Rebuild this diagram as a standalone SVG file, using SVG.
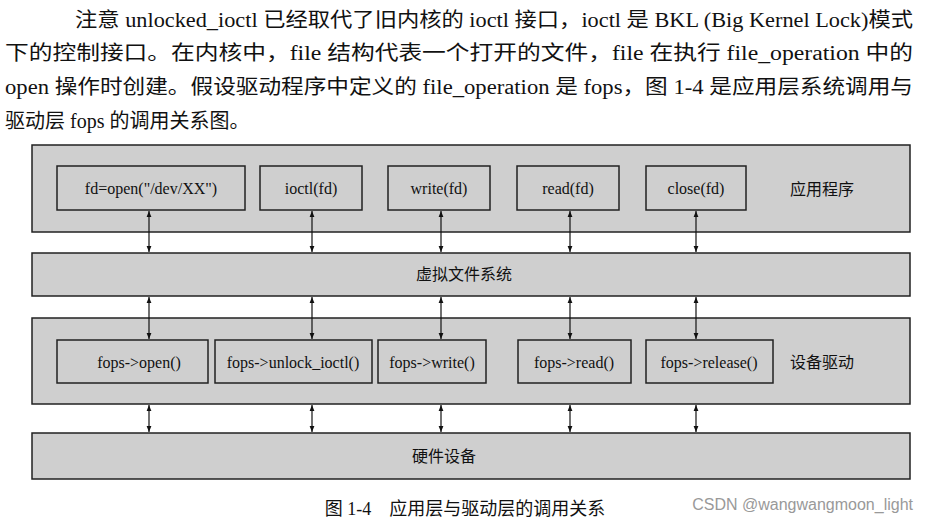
<svg xmlns="http://www.w3.org/2000/svg" width="929" height="523" viewBox="0 0 929 523">
<style>
.p{font-family:"Liberation Serif","Noto Sans CJK SC",serif;font-size:20px;fill:#111}
.t{font-family:"Liberation Serif","Noto Sans CJK SC",serif;font-size:16px;fill:#111;text-anchor:middle}
.bg{fill:#cfcfcf;stroke:#222;stroke-width:1.5}
.bx{fill:#cfcfcf;stroke:#222;stroke-width:1.5}
.c line{stroke:#111;stroke-width:1.2;marker-start:url(#a);marker-end:url(#a)}
</style>
<defs><marker id="a" viewBox="0 0 10 10" refX="10" refY="5" markerWidth="6" markerHeight="8" orient="auto-start-reverse" markerUnits="userSpaceOnUse"><path d="M0,1 L10,5 L0,9 Z" fill="#111"/></marker></defs>
<rect width="929" height="523" fill="#fff"/>
<text class="p" x="75" y="27" textLength="838" lengthAdjust="spacingAndGlyphs">注意 unlocked_ioctl 已经取代了旧内核的 ioctl 接口，ioctl 是 BKL (Big Kernel Lock)模式</text>
<text class="p" x="5" y="60" textLength="908" lengthAdjust="spacingAndGlyphs">下的控制接口。在内核中，file 结构代表一个打开的文件，file 在执行 file_operation 中的</text>
<text class="p" x="5" y="94" textLength="908" lengthAdjust="spacingAndGlyphs">open 操作时创建。假设驱动程序中定义的 file_operation 是 fops，图 1-4 是应用层系统调用与</text>
<text class="p" x="5" y="128">驱动层 fops 的调用关系图。</text>
<g id="app"><rect class="bg" x="32" y="145" width="878" height="87"/><text class="t" x="822" y="195">应用程序</text></g>
<g id="n1"><rect class="bx" x="57" y="166" width="188" height="44"/><text class="t" x="151" y="194">fd=open("/dev/XX")</text></g>
<g id="n2"><rect class="bx" x="260" y="166" width="102" height="44"/><text class="t" x="311" y="194">ioctl(fd)</text></g>
<g id="n3"><rect class="bx" x="388" y="166" width="102" height="44"/><text class="t" x="439" y="194">write(fd)</text></g>
<g id="n4"><rect class="bx" x="517" y="166" width="102" height="44"/><text class="t" x="568" y="194">read(fd)</text></g>
<g id="n5"><rect class="bx" x="646" y="166" width="100" height="44"/><text class="t" x="696" y="194">close(fd)</text></g>
<g id="vfs"><rect class="bg" x="32" y="253" width="878" height="43"/><text class="t" x="464" y="280">虚拟文件系统</text></g>
<g id="drv"><rect class="bg" x="32" y="318" width="878" height="86"/><text class="t" x="822" y="368">设备驱动</text></g>
<g id="d1"><rect class="bx" x="57" y="340" width="151" height="43"/><text class="t" x="139" y="368">fops-&gt;open()</text></g>
<g id="d2"><rect class="bx" x="215" y="340" width="157" height="43"/><text class="t" x="293" y="368">fops-&gt;unlock_ioctl()</text></g>
<g id="d3"><rect class="bx" x="378" y="340" width="108" height="43"/><text class="t" x="432" y="368">fops-&gt;write()</text></g>
<g id="d4"><rect class="bx" x="518" y="340" width="113" height="43"/><text class="t" x="574" y="368">fops-&gt;read()</text></g>
<g id="d5"><rect class="bx" x="646" y="340" width="127" height="43"/><text class="t" x="709" y="368">fops-&gt;release()</text></g>
<g id="hw"><rect class="bg" x="32" y="433" width="878" height="46"/><text class="t" x="444" y="462">硬件设备</text></g>
<g class="c" id="connectors">
<line x1="149" y1="211" x2="149" y2="252"/><line x1="312" y1="211" x2="312" y2="252"/><line x1="441" y1="211" x2="441" y2="252"/><line x1="570" y1="211" x2="570" y2="252"/><line x1="696" y1="211" x2="696" y2="252"/>
<line x1="149" y1="297" x2="149" y2="339"/><line x1="312" y1="297" x2="312" y2="339"/><line x1="441" y1="297" x2="441" y2="339"/><line x1="570" y1="297" x2="570" y2="339"/><line x1="696" y1="297" x2="696" y2="339"/>
<line x1="149" y1="405" x2="149" y2="432"/><line x1="312" y1="405" x2="312" y2="432"/><line x1="441" y1="405" x2="441" y2="432"/><line x1="570" y1="405" x2="570" y2="432"/><line x1="696" y1="405" x2="696" y2="432"/>
</g>
<text class="t" x="465" y="515" style="font-size:18px">图 1-4　应用层与驱动层的调用关系</text>
<text x="913" y="510" style="font-family:'Liberation Sans',sans-serif;font-size:16px;fill:#999;text-anchor:end">CSDN @wangwangmoon_light</text>
</svg>
